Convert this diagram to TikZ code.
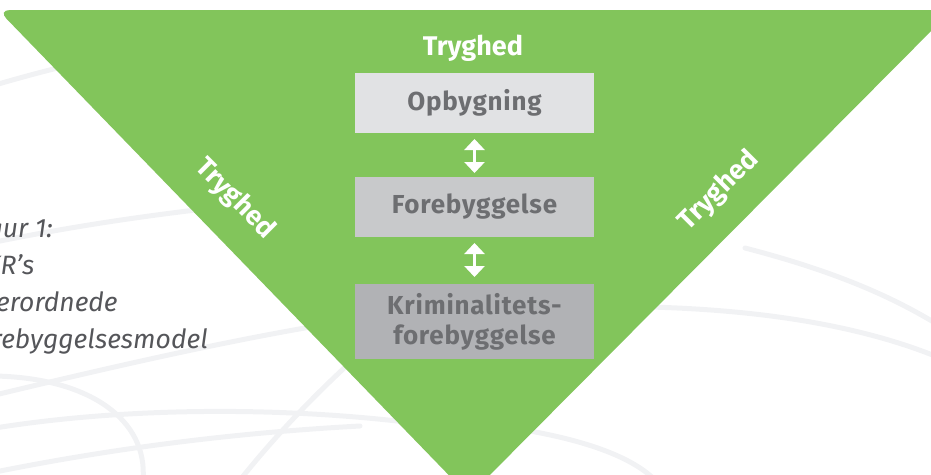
\documentclass[tikz,border=0pt]{standalone}
\usepackage{fontspec}
\setmainfont{Fira Sans}
\usetikzlibrary{arrows.meta}
\definecolor{grn}{HTML}{82C55B}
\definecolor{boxA}{HTML}{E1E2E4}
\definecolor{boxB}{HTML}{C8C9CB}
\definecolor{boxC}{HTML}{B1B2B5}
\definecolor{txtgray}{HTML}{6D6E71}
\definecolor{capgray}{HTML}{55565A}
\definecolor{swoosh}{HTML}{F1F2F4}
\tikzset{
  stagebox/.style={fill=#1, minimum width=239pt, minimum height=60pt, inner sep=0pt, outer sep=0pt,
    font=\bfseries\fontsize{26}{30}\selectfont\addfontfeatures{LetterSpace=3}, text=txtgray, align=center},
  toplabel/.style={font=\bfseries\fontsize{27}{30}\selectfont, text=white, inner sep=0pt},
  dblarrow/.style={draw=white, line width=3.5pt,
    {Triangle[width=20pt,length=11pt]}-{Triangle[width=20pt,length=11pt]}},
  bgline/.style={draw=swoosh, line width=5pt, line cap=round},
  caption/.style={font=\itshape\fontsize{26.5}{37}\selectfont, text=capgray, align=left, inner sep=0pt}
}
\begin{document}
\begin{tikzpicture}[x=1pt,y=-1pt]
\useasboundingbox (0,0) rectangle (931,474);
\clip (0,0) rectangle (931,474);
% faint background swooshes
\draw[bgline] (-5,85) .. controls (60,66) and (120,52) .. (200,40);
\draw[bgline] (-5,242) .. controls (80,225) and (150,215) .. (230,206);
\draw[bgline] (-5,395) .. controls (120,365) and (230,340) .. (340,322);
\draw[bgline] (-5,376) .. controls (90,378) and (148,420) .. (143,480);
\draw[bgline] (-5,428) .. controls (120,408) and (280,405) .. (430,425);
\draw[bgline] (-5,472) .. controls (130,445) and (250,432) .. (360,426);
\draw[bgline] (240,480) .. controls (280,430) and (320,390) .. (355,358);
\draw[bgline] (650,307) .. controls (760,310) and (860,325) .. (940,358);
\draw[bgline] (745,248) .. controls (830,270) and (890,295) .. (940,326);
\draw[bgline] (530,431) .. controls (580,440) and (630,455) .. (655,480);
% green triangle
\fill[grn, rounded corners=12pt] (-2,10) -- (952,10) -- (469,496) -- cycle;
% labels
\node[toplabel, anchor=base] (top) at (473,55) {Tryghed};
\node[toplabel, rotate=-45] (left) at (235,199) {Tryghed};
\node[toplabel, rotate=45] (right) at (719,191) {Tryghed};
% stage boxes
\node[stagebox=boxA] (b1) at (474.5,103) {Opbygning};
\node[stagebox=boxB] (b2) at (474.5,207) {Forebyggelse};
\node[stagebox=boxC, minimum height=75pt] (b3) at (474.5,321.5) {Kriminalitets-\\forebyggelse};
% arrows
\draw[dblarrow, shorten <=6pt, shorten >=4pt] (b1) -- (b2);
\draw[dblarrow, shorten <=6pt, shorten >=7pt] (b2) -- (b3);
% caption
\node[caption, anchor=base west] (cap) at (-32,348) {Figur 1:\\DKR’s\\overordnede\\forebyggelsesmodel};
\end{tikzpicture}
\end{document}
